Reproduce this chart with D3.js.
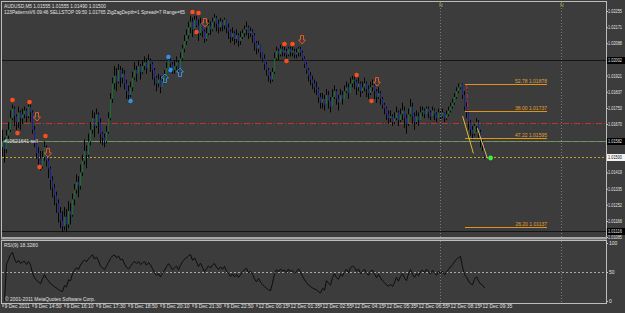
<!DOCTYPE html>
<html>
<head>
<script src="https://cdn.jsdelivr.net/npm/d3@7"></script>
<style>
  body { margin: 0; background: #3c3c3c; }
  svg { display: block; font-family: "Liberation Sans", Arial, sans-serif; }
</style>
</head>
<body>
<div id="chart"></div>
<script>
// prices in pips above 1.01000, open = previous close
const base = 1.01, pip = 0.0001;
const firstOpen = 55;
const close = [
  58,54,61,64,70,75,71,68,73,70, 72,74,71,76,73,64,57,52,49,45,
  50,55,48,44,38,34,30,26,21,17, 14,19,15,22,20,28,33,37,35,42,
  48,53,51,58,64,70,66,72,68,62, 60,58,63,70,80,88,92,89,95,91,
  93,88,84,82,86,91,95,93,97,94, 97,99,96,100,98,95,91,88,90,86,
  89,92,96,100,98,95,97,99,96,101, 106,110,113,117,120,116,121,118,114,119,
  115,111,114,118,116,120,122,119,117,120, 118,121,117,115,112,114,111,113,110,112,
  114,116,117,114,115,113,109,106,108,104, 101,98,95,92,90,94,101,105,103,106,
  104,105,103,106,104,105,103,104,106,104, 101,98,95,92,90,88,86,85,81,78,
  80,77,82,79,76,81,84,80,78,82, 80,84,86,83,88,90,89,86,88,84,
  86,88,85,83,86,87,84,81,83,80, 77,75,72,70,71,68,70,73,69,72,
  74,70,67,72,76,71,68,71,69,73, 74,72,75,73,71,74,72,70,73,71,
  73,70,72,74,76,78,81,84,86,88, 82,76,73,68,64,62,66,68,63,58,55.5,50
];
const high = [
  64,60,64,68,74,77,76,72,76,74, 75,76,75,77,77,74,66,59,55,53,
  53,58,56,49,45,40,36,32,28,24, 22,24,23,27,26,31,36,41,40,46,
  51,59,56,62,68,74,73,75,73,70, 63,62,66,73,83,91,97,96,98,97,
  96,95,90,87,89,94,99,97,100,98, 100,102,101,103,101,99,96,92,93,92,
  92,95,99,102,102,99,100,102,100,104, 108,113,116,120,123,122,123,123,121,122,
  119,116,117,121,120,122,124,123,121,122, 121,122,121,119,116,117,115,116,114,115,
  116,118,120,118,117,116,114,110,110,108, 104,103,99,96,94,96,104,107,106,108,
  107,107,106,107,107,107,106,106,107,107, 105,102,99,96,94,92,90,89,86,83,
  83,82,85,84,81,85,87,85,82,85, 84,87,89,88,91,92,93,90,91,89,
  89,91,89,87,89,90,88,85,86,84, 81,78,76,74,74,72,73,76,74,75,
  78,76,72,75,80,78,73,74,73,76, 76,75,76,76,74,76,75,73,75,74,
  75,73,74,76,78,80,83,86,88,88, 88,84,78,74,69,66,67,70,69,64,59,55.5
];
const low = [
  50,47,52,58,63,69,66,64,65,64, 67,70,68,70,68,62,55,49,46,43,
  44,48,45,39,33,29,25,21,16,13, 11,12,11,13,15,19,25,31,29,33,
  40,46,44,50,56,62,60,65,62,57, 56,55,57,62,69,78,85,84,88,86,
  88,85,80,79,81,84,90,89,93,90, 93,95,93,96,94,90,87,84,86,83,
  86,88,91,95,95,93,93,95,93,96, 100,104,108,111,114,112,115,117,110,113,
  112,109,110,113,113,115,117,115,114,115, 115,116,114,111,109,110,108,109,107,108,
  111,112,113,111,112,109,105,103,104,101, 99,95,92,89,88,89,93,100,100,102,
  102,102,101,102,102,102,101,101,102,102, 100,96,93,89,87,85,83,82,78,75,
  75,74,77,75,73,76,80,77,74,78, 77,80,83,80,83,86,85,82,84,81,
  83,84,81,80,82,84,80,78,80,77, 75,72,69,67,68,66,67,69,66,68,
  69,65,62,66,71,67,64,67,66,69, 71,70,72,70,69,71,69,68,70,69,
  70,68,69,71,73,75,77,80,83,85, 80,74,70,64,61,59,61,63,60,55,53,49
];

const priceTicks = [1.02255,1.02171,1.02088,1.02004,1.01921,1.01837,1.01753,1.01670,1.01586,1.01503,1.01419,1.01335,1.01252,1.01168,1.01085];
const timeBars = [0,15,31,47,63,79,95,111,127,143,159,175,191,207,223,239];
const timeLabels = ["9 Dec 2011","9 Dec 14:50","9 Dec 16:10","9 Dec 17:30","9 Dec 18:50","9 Dec 20:10","9 Dec 21:30","9 Dec 22:50",
  "12 Dec 00:15","12 Dec 01:35","12 Dec 02:55","12 Dec 04:15","12 Dec 05:35","12 Dec 06:55","12 Dec 08:15","12 Dec 09:35"];
const rsiTicks = [100, 50, 0];

// horizontal levels
const blackLevel = 1.02002, lowBlackLevel = 1.01116;
const stopLevel = 1.01675, orderLevel = 1.01582, bidLevel = 1.01500;
// fibo object
const fibFrom = 231.5, fibTo = 272.5;
const fibLevels = [1.01878, 1.01737, 1.01595, 1.01137];
const fibNames = ["52.78", "38.00", "47.22", "26.20"];
// pattern lines [bar, price, bar, price]
const patternLines = [[230.3, 1.01711, 235.7, 1.01518], [237.7, 1.01648, 242.7, 1.01492]];
const fibTrend = [232.3, 1.01872, 233, 1.01742];
const signalDot = [244.3, 1.01494];
const vLines = [219, 279.5];
// pattern markers [bar, price]
const orangeDots = [[5,1.01794],[13.5,1.01784],[21.5,1.01608],[95,1.02250],[98,1.02245],[141,1.02084],[145,1.02084],[177,1.01924]];
const orangeLowDots = [[7.5,1.01623],[18.5,1.01447],[97,1.02146],[142,1.01996],[184.5,1.01789]];
const orangeArrows = [[17.5,1.01706],[23,1.01520],[101.5,1.02193],[150,1.02105],[187.5,1.01887]];
const blueDots = [[64,1.01789],[83,1.02017],[84,1.01950]];
const blueArrows = [[81.5,1.01908],[89,1.01939]];

const W = 625, H = 313;
const txt = "#e2e2e2";
const svg = d3.select("#chart").append("svg").attr("width", W).attr("height", H);
svg.append("rect").attr("width", W).attr("height", H).attr("fill", "#3c3c3c");

const x = d3.scaleLinear().domain([0, 302]).range([2, 606]);
const y = d3.scaleLinear().domain([1.01085, 1.02255]).range([237, 11]);
const yR = d3.scaleLinear().domain([0, 100]).range([301, 243]);
const p = v => base + v * pip;

const main = svg.append("g");
main.append("clipPath").attr("id", "mc").append("rect").attr("x", 2).attr("y", 2).attr("width", 604).attr("height", 235);

// vertical lines in both windows
vLines.forEach(b => {
  [[2, 237], [241, 303]].forEach(([a, c]) => {
    svg.append("line").attr("x1", x(b) + 0.5).attr("x2", x(b) + 0.5).attr("y1", a).attr("y2", c)
      .attr("stroke", "#7a7a7a").attr("stroke-dasharray", "1,2");
  });
  svg.append("text").attr("x", x(b) - 1).attr("y", 7).attr("font-size", 5).attr("fill", "#b8b040").text("N");
});

// horizontal lines
const hline = (v, col, dash) => main.append("line").attr("x1", 2).attr("x2", 606)
  .attr("y1", Math.round(y(v)) + 0.5).attr("y2", Math.round(y(v)) + 0.5)
  .attr("stroke", col).attr("stroke-dasharray", dash);
hline(blackLevel, "#151515", null);
hline(lowBlackLevel, "#151515", null);
hline(stopLevel, "#c83030", "6,2,1,2");
hline(orderLevel, "#8a8a8a", null);
hline(orderLevel, "#5f9a48", "5,3");
hline(bidLevel, "#c8a028", "2,2");

// candles
const bars = main.append("g").attr("clip-path", "url(#mc)");
close.forEach((c, i) => {
  const o = i === 0 ? firstOpen : close[i - 1];
  const xi = x(i) + 0.5;
  bars.append("line").attr("x1", xi).attr("x2", xi).attr("y1", y(p(high[i]))).attr("y2", y(p(low[i])))
    .attr("stroke", "#050505");
  const top = y(p(Math.max(o, c))), bot = y(p(Math.min(o, c)));
  bars.append("rect").attr("x", x(i)).attr("width", 1).attr("y", top).attr("height", Math.max(1, bot - top))
    .attr("fill", c >= o ? "#14722f" : "#1c1f98");
});

// fibo
fibLevels.forEach((v, k) => {
  main.append("line").attr("x1", x(fibFrom)).attr("x2", x(fibTo))
    .attr("y1", Math.round(y(v)) + 0.5).attr("y2", Math.round(y(v)) + 0.5).attr("stroke", "#e0921c");
  main.append("text").attr("x", x(fibTo)).attr("y", Math.round(y(v)) - 1).attr("text-anchor", "end")
    .attr("font-size", 5).attr("fill", "#e0a030").text(fibNames[k] + " " + v.toFixed(5));
});
main.append("line").attr("x1", x(fibTrend[0])).attr("y1", y(fibTrend[1])).attr("x2", x(fibTrend[2])).attr("y2", y(fibTrend[3]))
  .attr("stroke", "#c83030").attr("stroke-dasharray", "4,2,1,2");
patternLines.forEach(l => {
  main.append("line").attr("x1", x(l[0])).attr("y1", y(l[1])).attr("x2", x(l[2])).attr("y2", y(l[3]))
    .attr("stroke", "#d8c030");
});
main.append("circle").attr("cx", x(signalDot[0])).attr("cy", y(signalDot[1])).attr("r", 2.4).attr("fill", "#3cf03c");

// markers
const dot = (d, col) => main.append("circle").attr("cx", x(d[0]) + 0.5).attr("cy", y(d[1])).attr("r", 2.3).attr("fill", col);
orangeDots.forEach(d => dot(d, "#ff4e1c"));
orangeLowDots.forEach(d => dot(d, "#f0501e"));
blueDots.forEach(d => dot(d, "#3392e6"));
const downArrow = "M-1.5,-4.5 L1.5,-4.5 L1.5,0 L3.5,0 L0,4 L-3.5,0 L-1.5,0 Z";
const upArrow = "M-1.5,4.5 L1.5,4.5 L1.5,0 L3.5,0 L0,-4 L-3.5,0 L-1.5,0 Z";
orangeArrows.forEach(d => main.append("path").attr("d", downArrow)
  .attr("transform", `translate(${x(d[0])},${y(d[1])})`).attr("fill", "none").attr("stroke", "#e05a28"));
blueArrows.forEach(d => main.append("path").attr("d", upArrow)
  .attr("transform", `translate(${x(d[0])},${y(d[1])})`).attr("fill", "none").attr("stroke", "#3a8ee0"));

main.append("text").attr("x", 4).attr("y", Math.round(y(orderLevel)) + 2).attr("font-size", 5).attr("fill", txt).text("#10621641 sell");

// header
main.append("text").attr("x", 4).attr("y", 8).attr("font-size", 5).attr("fill", txt)
  .attr("textLength", 102).attr("lengthAdjust", "spacingAndGlyphs")
  .text("AUDUSD,M5  1.01555 1.01555 1.01490 1.01500");
main.append("text").attr("x", 4).attr("y", 14).attr("font-size", 5).attr("fill", txt)
  .attr("textLength", 181).attr("lengthAdjust", "spacingAndGlyphs")
  .text("123PatternsV6  09:46  SELLSTOP  09:50  1.01765  ZigZagDepth=1  Spread=7  Range=65");

// right price axis
const ax = svg.append("g").attr("transform", "translate(606,0)")
  .call(d3.axisRight(y).tickValues(priceTicks).tickSize(2).tickPadding(0).tickFormat(d3.format(".5f")));
ax.select(".domain").remove();
ax.selectAll("line").attr("stroke", "#c8c8c8");
ax.selectAll("text").attr("font-size", 4.6).attr("fill", txt).attr("font-family", "Liberation Sans, Arial")
  .attr("textLength", 14).attr("lengthAdjust", "spacingAndGlyphs");

const tag = (v, bg, fg) => {
  const yy = Math.round(y(v));
  svg.append("rect").attr("x", 607).attr("y", yy - 3).attr("width", 18).attr("height", 7).attr("fill", bg);
  svg.append("text").attr("x", 608).attr("y", yy + 2).attr("font-size", 4.6).attr("fill", fg)
    .attr("textLength", 14).attr("lengthAdjust", "spacingAndGlyphs").text(v.toFixed(5));
};
tag(blackLevel, "#000", txt);
tag(orderLevel, "#000", txt);
tag(lowBlackLevel, "#000", txt);
tag(bidLevel, "#f4f4f4", "#111");

// RSI(9) from closes
const rsi = [];
let ag = 0, al = 0;
for (let i = 1; i < close.length; i++) {
  const d = close[i] - close[i - 1];
  const n = Math.min(i, 9);
  ag = (ag * (n - 1) + Math.max(d, 0)) / n;
  al = (al * (n - 1) + Math.max(-d, 0)) / n;
  rsi.push([i, al === 0 ? 100 : 100 - 100 / (1 + ag / al)]);
}
svg.append("line").attr("x1", 2).attr("x2", 606).attr("y1", Math.round(yR(50)) + 0.5).attr("y2", Math.round(yR(50)) + 0.5)
  .attr("stroke", "#a8a8a8").attr("stroke-dasharray", "2,2");
svg.append("path").datum(rsi).attr("fill", "none").attr("stroke", "#0c0c0c")
  .attr("d", d3.line().x(d => x(d[0]) + 0.5).y(d => yR(d[1])));
svg.append("text").attr("x", 4).attr("y", 247).attr("font-size", 5).attr("fill", txt).text("RSI(9) 18.3280");
svg.append("text").attr("x", 5).attr("y", 301).attr("font-size", 5).attr("fill", txt)
  .attr("textLength", 90).attr("lengthAdjust", "spacingAndGlyphs").text("© 2001-2011 MetaQuotes Software Corp.");
const ar = svg.append("g").attr("transform", "translate(606,0)")
  .call(d3.axisRight(yR).tickValues(rsiTicks).tickSize(2).tickPadding(1));
ar.select(".domain").remove();
ar.selectAll("line").attr("stroke", "#c8c8c8");
ar.selectAll("text").attr("font-size", 5).attr("fill", txt).attr("font-family", "Liberation Sans, Arial");

// frames
svg.append("rect").attr("x", 1.5).attr("y", 1.5).attr("width", 605).attr("height", 236).attr("fill", "none").attr("stroke", "#bcbcbc");
svg.append("rect").attr("x", 1).attr("y", 237).attr("width", 606).attr("height", 2.5).attr("fill", "#a8a8a8");
svg.append("rect").attr("x", 1.5).attr("y", 240.5).attr("width", 605).attr("height", 63).attr("fill", "none").attr("stroke", "#bcbcbc");

// time axis
const at = svg.append("g").attr("transform", "translate(0,304)")
  .call(d3.axisBottom(x).tickValues(timeBars).tickSize(3).tickPadding(0).tickFormat((d, k) => timeLabels[k]));
at.select(".domain").remove();
at.selectAll("line").attr("stroke", "#c8c8c8").attr("transform", "translate(0.5,0)");
at.selectAll("text").attr("font-size", 5).attr("fill", txt).attr("text-anchor", "start")
  .attr("dx", 2).attr("dy", "0.2em").attr("font-family", "Liberation Sans, Arial");
</script>
</body>
</html>
